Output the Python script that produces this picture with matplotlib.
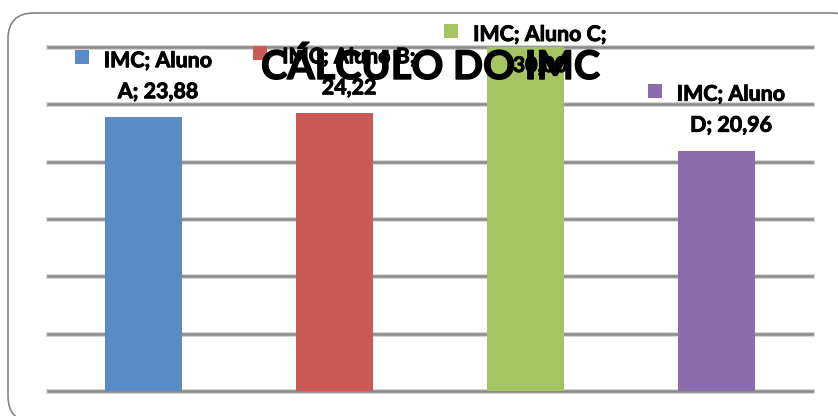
"""
Cálculo do IMC - gráfico de colunas com rótulos de dados
"""

import matplotlib

matplotlib.use("Agg")

import matplotlib.pyplot as plt
import matplotlib.patheffects as pe
from matplotlib.patches import FancyBboxPatch, Rectangle
from matplotlib.transforms import IdentityTransform

# data ------------------------------------------------------------------------

series_name = "IMC"
categories = ["Aluno A", "Aluno B", "Aluno C", "Aluno D"]
values = [23.88, 24.22, 30.00, 20.96]
bar_colors = ["#5A8BC7", "#CB5A56", "#A5C563", "#8B6DAE"]
# rótulo quebra a linha depois da categoria?
wrap_after_category = [False, True, True, False]
title = "CÁLCULO DO IMC"

# layout (pixels, figure 838x416 @ 100 dpi) ------------------------------------

W, H = 838, 416
DPI = 100
FONT = ["Lato", "DejaVu Sans"]
HEAVY = [pe.withStroke(linewidth=0.7, foreground="black")]

LABEL_SIZE = 15.4
LABEL_GAP = 19      # baseline of last line above bar top
LINE_STEP = 31      # distance between label baselines
LINE1_MAX = H - 41  # highest baseline allowed for first label line
SQUARE = 14
SQUARE_GAP = 15

plt.rcParams["savefig.bbox"] = "standard"


def label_lines(cat, val, wrap_cat):
    val_txt = f"{val:.2f}".replace(".", ",")
    first, letter = cat.split(" ")
    if wrap_cat:
        return f"{series_name}; {first} {letter};", val_txt
    return f"{series_name}; {first}", f"{letter}; {val_txt}"


def main():

    fig = plt.figure(figsize=(W / DPI, H / DPI), dpi=DPI)
    fig.patch.set_facecolor("white")

    ax = fig.add_axes([48 / W, 25 / H, (812 - 48) / W, (391 - 47) / H])
    ax.patch.set_alpha(0)

    x = list(range(len(categories)))

    ax.bar(x, values, width=0.4, color=bar_colors, zorder=3)

    ax.set_xlim(-0.5, len(categories) - 0.5)
    ax.set_ylim(0, 30)
    ax.set_yticks(range(0, 31, 5))
    ax.set_xticks([])
    ax.tick_params(axis="y", length=0, labelleft=False)

    for spine in ax.spines.values():
        spine.set_visible(False)

    ax.set_axisbelow(True)
    ax.yaxis.grid(True, color="#8a8a8a", linewidth=1.8)
    for line in ax.get_ygridlines():
        line.set_clip_on(False)
        line.set_path_effects([
            pe.Stroke(linewidth=3.6, foreground="#d6d6d6"),
            pe.Normal(),
        ])

    # outer rounded frame, right and bottom sides run past the picture edge
    frame = FancyBboxPatch(
        (8, -6), 850, 403 + 6,
        boxstyle="round,pad=0,rounding_size=26",
        transform=IdentityTransform(),
        facecolor="white",
        edgecolor="#858585",
        linewidth=1.2,
        zorder=-1,
    )
    fig.add_artist(frame, clip=True)

    fig.canvas.draw()
    renderer = fig.canvas.get_renderer()

    # data labels with legend key
    for i, (cat, val) in enumerate(zip(categories, values)):

        line1_txt, line2_txt = label_lines(cat, val, wrap_after_category[i])

        bx, by = ax.transData.transform((x[i], val))

        base2 = by + LABEL_GAP
        base1 = base2 + LINE_STEP
        if base1 > LINE1_MAX:
            shift = base1 - LINE1_MAX
            base1 -= shift
            base2 -= shift

        t1 = fig.text(
            0, base1, line1_txt,
            transform=IdentityTransform(),
            ha="left", va="baseline",
            fontsize=LABEL_SIZE, fontweight="bold", family=FONT,
            path_effects=HEAVY,
            zorder=5,
        )
        w1 = t1.get_window_extent(renderer).width

        block = SQUARE + SQUARE_GAP + w1
        left = bx - block / 2
        text_left = left + SQUARE + SQUARE_GAP
        t1.set_x(text_left)

        fig.text(
            text_left + w1 / 2, base2, line2_txt,
            transform=IdentityTransform(),
            ha="center", va="baseline",
            fontsize=LABEL_SIZE, fontweight="bold", family=FONT,
            path_effects=HEAVY,
            zorder=5,
        )

        fig.add_artist(Rectangle(
            (left, base1 + 3), SQUARE, SQUARE,
            transform=IdentityTransform(),
            facecolor=bar_colors[i],
            edgecolor="none",
            zorder=5,
        ))

    fig.text(
        431, H - 79, title,
        transform=IdentityTransform(),
        ha="center", va="baseline",
        fontsize=28.5, fontweight="bold", family=FONT,
        path_effects=[pe.withStroke(linewidth=1.0, foreground="black")],
        zorder=6,
    )

    fig.savefig("out.png", dpi=DPI, bbox_inches=None)
    plt.close(fig)


if __name__ == "__main__":
    main()
